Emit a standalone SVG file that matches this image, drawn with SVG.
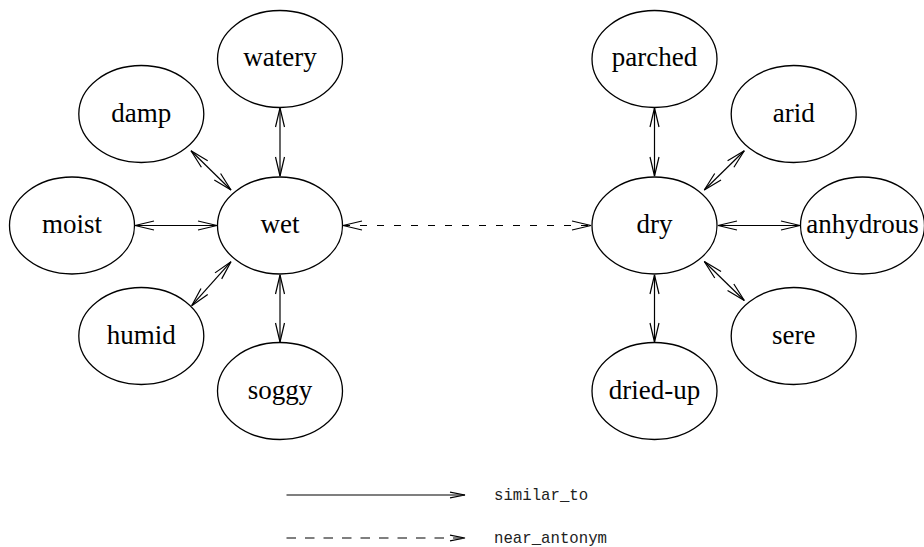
<svg xmlns="http://www.w3.org/2000/svg" width="924" height="547" viewBox="0 0 924 547">
<style>
.node ellipse{fill:#fff;stroke:#000;stroke-width:1.3}
.node text{font-family:"Liberation Serif","Times New Roman",serif;font-size:27px;text-anchor:middle;fill:#000}
.edge{stroke:#000;stroke-width:1.2;fill:none}
.dash{stroke-dasharray:7,10}
.ldash{stroke-dasharray:9.5,9}
.legend{font-family:"Liberation Mono","Courier New",monospace;font-size:15.7px;fill:#222}
</style>
<defs>
<marker id="ah" markerUnits="userSpaceOnUse" markerWidth="22" markerHeight="12" viewBox="-20 -6 22 12" refX="0" refY="0" orient="auto-start-reverse">
<path d="M-19,-4.5 L0,0 L-19,4.5" fill="none" stroke="#000" stroke-width="1.2"/>
</marker>
<marker id="lh" markerUnits="userSpaceOnUse" markerWidth="18" markerHeight="10" viewBox="-16 -5 18 10" refX="0" refY="0" orient="auto">
<path d="M-15,-2.8 L0,0 L-15,2.8" fill="none" stroke="#000" stroke-width="1.2"/>
</marker>
</defs>
<g id="connectors">
<line class="edge" x1="280" y1="108" x2="280" y2="176" marker-start="url(#ah)" marker-end="url(#ah)"/>
<line class="edge" x1="191" y1="150.7" x2="231" y2="190" marker-start="url(#ah)" marker-end="url(#ah)"/>
<line class="edge" x1="135" y1="225.5" x2="217" y2="225.5" marker-start="url(#ah)" marker-end="url(#ah)"/>
<line class="edge" x1="191.7" y1="305.7" x2="231" y2="261.7" marker-start="url(#ah)" marker-end="url(#ah)"/>
<line class="edge" x1="280" y1="275" x2="280" y2="342" marker-start="url(#ah)" marker-end="url(#ah)"/>
<line class="edge dash" x1="343" y1="225.5" x2="591" y2="225.5" marker-start="url(#ah)" marker-end="url(#ah)"/>
<line class="edge" x1="654.5" y1="108" x2="654.5" y2="176" marker-start="url(#ah)" marker-end="url(#ah)"/>
<line class="edge" x1="744.3" y1="150.7" x2="704.3" y2="190" marker-start="url(#ah)" marker-end="url(#ah)"/>
<line class="edge" x1="718" y1="225.5" x2="800" y2="225.5" marker-start="url(#ah)" marker-end="url(#ah)"/>
<line class="edge" x1="704.3" y1="261.5" x2="744.3" y2="300.5" marker-start="url(#ah)" marker-end="url(#ah)"/>
<line class="edge" x1="654.5" y1="275" x2="654.5" y2="342" marker-start="url(#ah)" marker-end="url(#ah)"/>
</g>
<g id="wet" class="node"><ellipse cx="280" cy="225.5" rx="62.5" ry="48.5"/><text x="280" y="233">wet</text></g>
<g id="watery" class="node"><ellipse cx="280" cy="59" rx="62.5" ry="48.5"/><text x="280" y="66">watery</text></g>
<g id="damp" class="node"><ellipse cx="141.3" cy="114" rx="62.5" ry="48.5"/><text x="141.3" y="121.5">damp</text></g>
<g id="moist" class="node"><ellipse cx="72" cy="225.5" rx="62.5" ry="48.5"/><text x="72" y="233">moist</text></g>
<g id="humid" class="node"><ellipse cx="141.3" cy="336" rx="62.5" ry="48.5"/><text x="141.3" y="343.5">humid</text></g>
<g id="soggy" class="node"><ellipse cx="280" cy="391" rx="62.5" ry="48.5"/><text x="280" y="398.5">soggy</text></g>
<g id="dry" class="node"><ellipse cx="654.5" cy="225.5" rx="62.5" ry="48.5"/><text x="654.5" y="233">dry</text></g>
<g id="parched" class="node"><ellipse cx="654.5" cy="59" rx="62.5" ry="48.5"/><text x="654.5" y="66">parched</text></g>
<g id="arid" class="node"><ellipse cx="793.7" cy="114" rx="62.5" ry="48.5"/><text x="793.7" y="121.5">arid</text></g>
<g id="anhydrous" class="node"><ellipse cx="862.5" cy="225.5" rx="62" ry="48.5"/><text x="862.5" y="233">anhydrous</text></g>
<g id="sere" class="node"><ellipse cx="793.7" cy="336" rx="62.5" ry="48.5"/><text x="793.7" y="343.5">sere</text></g>
<g id="dried-up" class="node"><ellipse cx="654.5" cy="391" rx="62.5" ry="48.5"/><text x="654.5" y="398.5">dried-up</text></g>
<g id="legend">
<line class="edge" x1="286.5" y1="495" x2="465" y2="495" marker-end="url(#lh)"/>
<text class="legend" x="494" y="499.5">similar_to</text>
<line class="edge ldash" x1="286.5" y1="538" x2="465" y2="538" marker-end="url(#lh)"/>
<text class="legend" x="494" y="542.5">near_antonym</text>
</g>
</svg>
